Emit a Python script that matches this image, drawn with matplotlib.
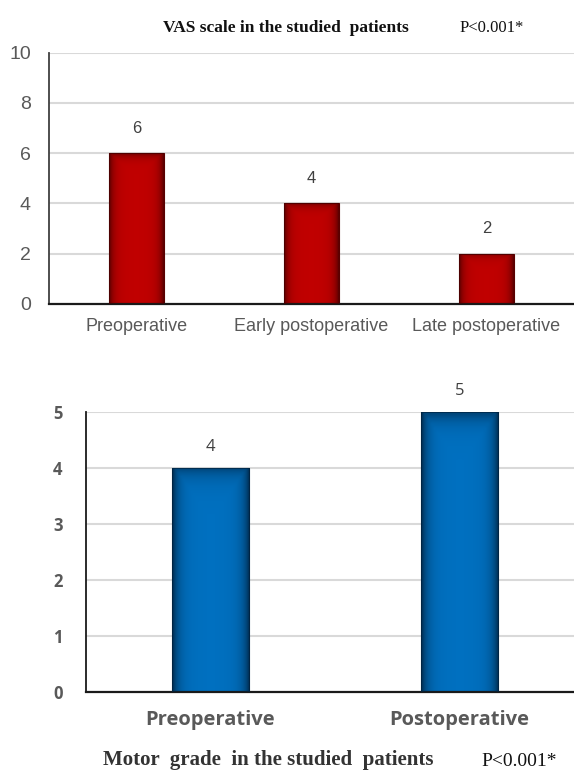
import numpy as np
import matplotlib
matplotlib.use("Agg")
import matplotlib.pyplot as plt

# VAS pain score and motor grade, median values
vas_labels = ["Preoperative", "Early postoperative", "Late postoperative"]
vas_values = [6, 4, 2]
vas_ticks = [0, 2, 4, 6, 8, 10]

motor_labels = ["Preoperative", "Postoperative"]
motor_values = [4, 5]
motor_ticks = [0, 1, 2, 3, 4, 5]

W, H = 574, 771
GRAY = "#595959"
SANS = ["Liberation Sans", "DejaVu Sans"]
BOLD_SANS = ["Open Sans", "DejaVu Sans"]
SERIF = ["Liberation Serif", "DejaVu Serif"]


def shade_bars(ax, bars, dark):
    # darken the edges of each bar with a soft inner shadow
    n = 60
    xs = np.linspace(0, 1, n)
    edge = np.minimum(xs, 1 - xs)
    for b in bars:
        x0, y0 = b.get_x(), b.get_y()
        w, h = b.get_width(), b.get_height()
        ys = np.linspace(0, 1, n)
        side = np.exp(-edge * 12)[None, :]
        top = np.exp(-(1 - ys) * h * 6)[:, None] * 0.6
        alpha = np.clip(np.maximum(side, top) * 0.85, 0, 1)
        img = np.zeros((n, n, 4))
        img[..., :3] = matplotlib.colors.to_rgb(dark)
        img[..., 3] = alpha
        im = ax.imshow(img, extent=(x0, x0 + w, y0, y0 + h), origin="lower",
                       aspect="auto", interpolation="bilinear", zorder=3)
        im.set_clip_path(b)


fig = plt.figure(figsize=(W / 100, H / 100), dpi=100)

# ---- VAS scale ----
ax1 = fig.add_axes([49 / W, 1 - 304 / H, 1 - 49 / W, (304 - 52.7) / H])
x1 = np.arange(len(vas_labels))
bars1 = ax1.bar(x1, vas_values, width=0.31, color="#C00000",
                edgecolor="#5a0000", linewidth=0.8, zorder=2)
shade_bars(ax1, bars1, "#4a0000")
ax1.set_xlim(-0.5, 2.5)
ax1.set_ylim(0, 10)
ax1.set_yticks(vas_ticks)
ax1.set_yticklabels([str(t) for t in vas_ticks], family=SANS, fontsize=14, color=GRAY)
ax1.set_xticks(x1)
ax1.set_xticklabels(vas_labels, family=SANS, fontsize=13, color=GRAY)
ax1.tick_params(axis="y", length=0, pad=13)
ax1.tick_params(axis="x", length=0, pad=10)
ax1.grid(axis="y", color="#D9D9D9", linewidth=1.5, zorder=0)
ax1.set_axisbelow(True)
for s in ["top", "right"]:
    ax1.spines[s].set_visible(False)
ax1.spines["left"].set_color("#404040")
ax1.spines["left"].set_linewidth(1.3)
ax1.spines["bottom"].set_color("#1a1a1a")
ax1.spines["bottom"].set_linewidth(1.6)
for xi, v in zip(x1, vas_values):
    ax1.annotate(str(v), (xi, v), xytext=(0, 18), textcoords="offset points",
                 ha="center", va="center", family=SANS, fontsize=12, color="#404040")

fig.text(286 / W, 1 - 28 / H, "VAS scale in the studied  patients", family=SERIF,
         fontsize=12.5, fontweight="bold", ha="center", va="center", color="#111111")
fig.text(492 / W, 1 - 28 / H, "P<0.001*", family=SERIF, fontsize=12,
         ha="center", va="center", color="#111111")

# ---- Motor grade ----
ax2 = fig.add_axes([86 / W, 1 - 692 / H, 1 - 86 / W, (692 - 412) / H])
x2 = np.arange(len(motor_labels))
bars2 = ax2.bar(x2, motor_values, width=0.31, color="#0070C0",
                edgecolor="#003a66", linewidth=0.8, zorder=2)
shade_bars(ax2, bars2, "#00213d")
ax2.set_xlim(-0.5, 1.46)
ax2.set_ylim(0, 5)
ax2.set_yticks(motor_ticks)
ax2.set_yticklabels([str(t) for t in motor_ticks], family=BOLD_SANS,
                    fontsize=12, fontweight="bold", color=GRAY)
ax2.set_xticks(x2)
ax2.set_xticklabels(motor_labels, family=BOLD_SANS, fontsize=14.5,
                    fontweight="bold", color=GRAY)
ax2.tick_params(axis="y", length=0, pad=17)
ax2.tick_params(axis="x", length=0, pad=13)
ax2.grid(axis="y", color="#D9D9D9", linewidth=1.5, zorder=0)
ax2.set_axisbelow(True)
for s in ["top", "right"]:
    ax2.spines[s].set_visible(False)
ax2.spines["left"].set_color("#1a1a1a")
ax2.spines["left"].set_linewidth(1.3)
ax2.spines["bottom"].set_color("#1a1a1a")
ax2.spines["bottom"].set_linewidth(1.6)
for xi, v in zip(x2, motor_values):
    ax2.annotate(str(v), (xi, v), xytext=(0, 15), textcoords="offset points",
                 ha="center", va="center", family=BOLD_SANS,
                 fontsize=12, color="#404040")

fig.text(268 / W, 1 - 760 / H, "Motor  grade  in the studied  patients", family=SERIF,
         fontsize=15, fontweight="bold", ha="center", va="center", color="#333333")
fig.text(519 / W, 1 - 762 / H, "P<0.001*", family=SERIF, fontsize=14,
         ha="center", va="center", color="#111111")

fig.savefig("out.png", dpi=100)
